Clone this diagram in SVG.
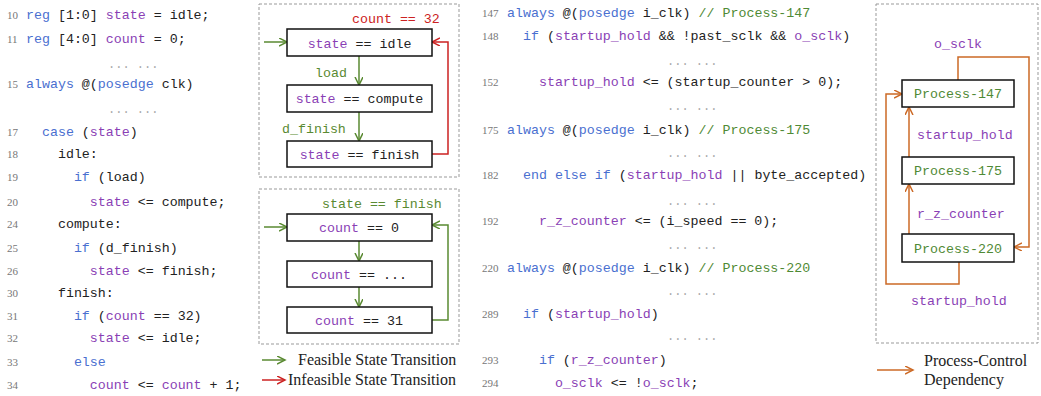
<svg xmlns="http://www.w3.org/2000/svg" width="1041" height="396" viewBox="0 0 1041 396">
<style>
.code{font-family:"Liberation Mono","DejaVu Sans Mono",monospace;font-size:13.3px;fill:#222;white-space:pre}
.ln{font-family:"Liberation Serif","DejaVu Serif",serif;font-size:11px;fill:#777}
.dots{font-family:"Liberation Mono",monospace;font-size:12px;fill:#aaa;white-space:pre}
.kw{fill:#4a6fd0}
.v{fill:#8a3fb5}
.cm{fill:#4f8a35}
.frame{fill:none;stroke:#999;stroke-width:1;stroke-dasharray:3,2}
.box{fill:#fff;stroke:#111;stroke-width:1.5}
.g{stroke:#5a8a32;stroke-width:1.5;fill:none}
.r{stroke:#cc2222;stroke-width:1.5;fill:none}
.o{stroke:#cc6a26;stroke-width:1.5;fill:none}
.mid{text-anchor:middle}
.leg{font-family:"Liberation Serif","DejaVu Serif",serif;font-size:16px;fill:#222}
</style>
<defs>
<marker id="ag" markerWidth="10" markerHeight="10" refX="8" refY="4" orient="auto" markerUnits="userSpaceOnUse"><path d="M0,0 L8,4 L0,8" fill="none" stroke="#5a8a32" stroke-width="1.5"/></marker>
<marker id="ar" markerWidth="10" markerHeight="10" refX="8" refY="4" orient="auto" markerUnits="userSpaceOnUse"><path d="M0,0 L8,4 L0,8" fill="none" stroke="#cc2222" stroke-width="1.5"/></marker>
<marker id="ao" markerWidth="10" markerHeight="10" refX="8" refY="4" orient="auto" markerUnits="userSpaceOnUse"><path d="M0,0 L8,4 L0,8" fill="none" stroke="#cc6a26" stroke-width="1.5"/></marker>
</defs>

<!-- Left code -->
<g id="code-left">
<text class="ln" x="7" y="19">10</text><text class="code" x="26" y="19"><tspan class="kw">reg</tspan> [1:0] <tspan class="v">state</tspan> = idle;</text>
<text class="ln" x="7" y="43">11</text><text class="code" x="26" y="43"><tspan class="kw">reg</tspan> [4:0] <tspan class="v">count</tspan> = 0;</text>
<text class="dots" x="108" y="68">... ...</text>
<text class="ln" x="7" y="88">15</text><text class="code" x="26" y="88"><tspan class="kw">always</tspan> @(<tspan class="kw">posedge</tspan> clk)</text>
<text class="dots" x="108" y="113">... ...</text>
<text class="ln" x="7" y="136">17</text><text class="code" x="26" y="136">  <tspan class="kw">case</tspan> (<tspan class="v">state</tspan>)</text>
<text class="ln" x="7" y="158">18</text><text class="code" x="26" y="158">    idle:</text>
<text class="ln" x="7" y="181">19</text><text class="code" x="26" y="181">      <tspan class="kw">if</tspan> (load)</text>
<text class="ln" x="7" y="206">20</text><text class="code" x="26" y="206">        <tspan class="v">state</tspan> &lt;= compute;</text>
<text class="ln" x="7" y="228">24</text><text class="code" x="26" y="228">    compute:</text>
<text class="ln" x="7" y="252">25</text><text class="code" x="26" y="252">      <tspan class="kw">if</tspan> (d_finish)</text>
<text class="ln" x="7" y="275">26</text><text class="code" x="26" y="275">        <tspan class="v">state</tspan> &lt;= finish;</text>
<text class="ln" x="7" y="297">30</text><text class="code" x="26" y="297">    finish:</text>
<text class="ln" x="7" y="320">31</text><text class="code" x="26" y="320">      <tspan class="kw">if</tspan> (<tspan class="v">count</tspan> == 32)</text>
<text class="ln" x="7" y="342">32</text><text class="code" x="26" y="342">        <tspan class="v">state</tspan> &lt;= idle;</text>
<text class="ln" x="7" y="366">33</text><text class="code" x="26" y="366">      <tspan class="kw">else</tspan></text>
<text class="ln" x="7" y="389">34</text><text class="code" x="26" y="389">        <tspan class="v">count</tspan> &lt;= <tspan class="v">count</tspan> + 1;</text>
</g>

<!-- Frames -->
<rect class="frame" x="259" y="4" width="200" height="173"/>
<rect class="frame" x="259" y="189" width="200" height="155"/>
<rect class="frame" x="876" y="4" width="162" height="339"/>

<!-- Connectors -->
<g id="connectors">
<line class="g" x1="264" y1="42" x2="287" y2="42" marker-end="url(#ag)"/>
<line class="g" x1="359" y1="56" x2="359" y2="85" marker-end="url(#ag)"/>
<line class="g" x1="359" y1="112" x2="359" y2="141" marker-end="url(#ag)"/>
<path class="r" d="M432,154 H448 V42 H432" marker-end="url(#ar)"/>
<line class="g" x1="264" y1="227" x2="287" y2="227" marker-end="url(#ag)"/>
<line class="g" x1="359" y1="241" x2="359" y2="261" marker-end="url(#ag)"/>
<line class="g" x1="359" y1="287" x2="359" y2="307" marker-end="url(#ag)"/>
<path class="g" d="M432,320 H448 V225 H432" marker-end="url(#ag)"/>
<path class="o" d="M958,80 V57 H1029 V247 H1014" marker-end="url(#ao)"/>
<line class="o" x1="909" y1="157" x2="909" y2="107" marker-end="url(#ao)"/>
<line class="o" x1="909" y1="234" x2="909" y2="184" marker-end="url(#ao)"/>
<path class="o" d="M959,262 V284 H886 V94 H902" marker-end="url(#ao)"/>
</g>

<!-- State nodes -->
<g id="s-idle"><rect class="box" x="287" y="29" width="145" height="27"/><text class="code mid" x="359.5" y="47.5"><tspan class="v">state</tspan> == idle</text></g>
<g id="s-compute"><rect class="box" x="287" y="85" width="145" height="27"/><text class="code mid" x="359.5" y="103"><tspan class="v">state</tspan> == compute</text></g>
<g id="s-finish"><rect class="box" x="287" y="141" width="145" height="26"/><text class="code mid" x="359.5" y="158.5"><tspan class="v">state</tspan> == finish</text></g>
<text class="code" x="315" y="76.5" style="fill:#5a8a32">load</text>
<text class="code" x="282" y="132.5" style="fill:#5a8a32">d_finish</text>
<text class="code" x="352" y="22.5" style="fill:#cc2222">count == 32</text>

<g id="c-0"><rect class="box" x="287" y="214" width="145" height="27"/><text class="code mid" x="359" y="232"><tspan class="v">count</tspan> == 0</text></g>
<g id="c-mid"><rect class="box" x="287" y="261" width="145" height="26"/><text class="code mid" x="359" y="278.5"><tspan class="v">count</tspan> == ...</text></g>
<g id="c-31"><rect class="box" x="287" y="307" width="145" height="26"/><text class="code mid" x="359" y="324.5"><tspan class="v">count</tspan> == 31</text></g>
<text class="code" x="322" y="207.5" style="fill:#5a8a32">state == finish</text>

<!-- Legend 1 -->
<g id="legend-states">
<line class="g" x1="262" y1="360" x2="285" y2="360" marker-end="url(#ag)"/>
<text class="leg" x="298" y="365">Feasible State Transition</text>
<line class="r" x1="262" y1="380" x2="285" y2="380" marker-end="url(#ar)"/>
<text class="leg" x="288" y="385">Infeasible State Transition</text>
</g>

<!-- Middle code -->
<g id="code-mid">
<text class="ln" x="482" y="17">147</text><text class="code" x="507" y="17"><tspan class="kw">always</tspan> @(<tspan class="kw">posedge</tspan> i_clk) <tspan class="cm">// Process-147</tspan></text>
<text class="ln" x="482" y="40">148</text><text class="code" x="507" y="40">  <tspan class="kw">if</tspan> (<tspan class="v">startup_hold</tspan> &amp;&amp; !past_sclk &amp;&amp; <tspan class="v">o_sclk</tspan>)</text>
<text class="dots" x="667" y="65">... ...</text>
<text class="ln" x="482" y="86">152</text><text class="code" x="507" y="86">    <tspan class="v">startup_hold</tspan> &lt;= (startup_counter &gt; 0);</text>
<text class="dots" x="667" y="110">... ...</text>
<text class="ln" x="482" y="134">175</text><text class="code" x="507" y="134"><tspan class="kw">always</tspan> @(<tspan class="kw">posedge</tspan> i_clk) <tspan class="cm">// Process-175</tspan></text>
<text class="dots" x="667" y="157">... ...</text>
<text class="ln" x="482" y="179">182</text><text class="code" x="507" y="179">  <tspan class="kw">end else if</tspan> (<tspan class="v">startup_hold</tspan> || byte_accepted)</text>
<text class="dots" x="667" y="205">... ...</text>
<text class="ln" x="482" y="225">192</text><text class="code" x="507" y="225">    <tspan class="v">r_z_counter</tspan> &lt;= (i_speed == 0);</text>
<text class="dots" x="667" y="249">... ...</text>
<text class="ln" x="482" y="272">220</text><text class="code" x="507" y="272"><tspan class="kw">always</tspan> @(<tspan class="kw">posedge</tspan> i_clk) <tspan class="cm">// Process-220</tspan></text>
<text class="dots" x="667" y="295">... ...</text>
<text class="ln" x="482" y="318">289</text><text class="code" x="507" y="318">  <tspan class="kw">if</tspan> (<tspan class="v">startup_hold</tspan>)</text>
<text class="dots" x="667" y="340">... ...</text>
<text class="ln" x="482" y="364">293</text><text class="code" x="507" y="364">    <tspan class="kw">if</tspan> (<tspan class="v">r_z_counter</tspan>)</text>
<text class="ln" x="482" y="387">294</text><text class="code" x="507" y="387">      <tspan class="v">o_sclk</tspan> &lt;= !<tspan class="v">o_sclk</tspan>;</text>
</g>

<!-- Process nodes -->
<g id="p147"><rect class="box" x="902" y="80" width="112" height="27"/><text class="code mid cm" x="958" y="98">Process-147</text></g>
<g id="p175"><rect class="box" x="902" y="157" width="112" height="27"/><text class="code mid cm" x="958" y="175">Process-175</text></g>
<g id="p220"><rect class="box" x="902" y="234" width="112" height="28"/><text class="code mid cm" x="958" y="252.5">Process-220</text></g>
<text class="code v" x="934" y="47.5">o_sclk</text>
<text class="code v" x="917" y="138.5">startup_hold</text>
<text class="code v" x="917" y="217.5">r_z_counter</text>
<text class="code v" x="911" y="304.5">startup_hold</text>

<!-- Legend 2 -->
<g id="legend-dep">
<line class="o" x1="877" y1="370" x2="913" y2="370" marker-end="url(#ao)"/>
<text class="leg" x="924" y="366">Process-Control</text>
<text class="leg" x="924" y="385">Dependency</text>
</g>
</svg>
